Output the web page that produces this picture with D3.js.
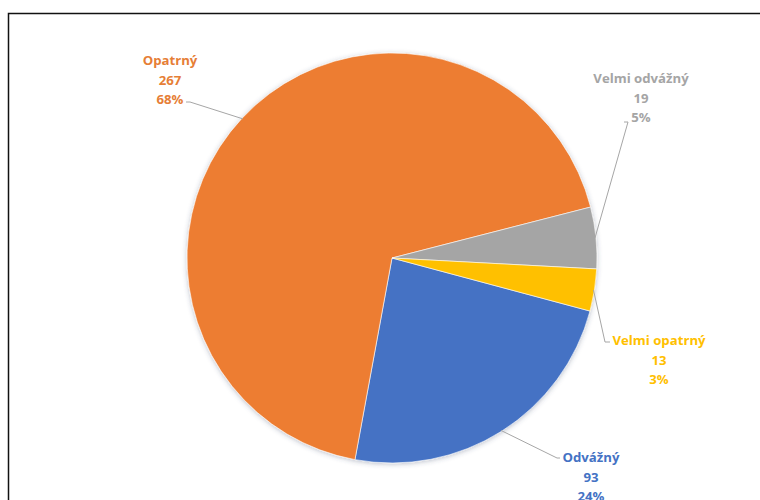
<!DOCTYPE html>
<html>
<head>
<meta charset="utf-8">
<script src="https://cdn.jsdelivr.net/npm/d3@7"></script>
<style>
  html, body { margin: 0; padding: 0; background: #fff; }
  svg { display: block; }
</style>
</head>
<body>
<svg id="chart" width="760" height="500"></svg>
<script>
// Survey answers: counts per category
const categories = ["Odvážný", "Opatrný", "Velmi odvážný", "Velmi opatrný"];
const counts = [93, 267, 19, 13];
const colors = ["#4472C4", "#ED7D31", "#A5A5A5", "#FFC000"];
const labelColors = ["#4472C4", "#E67E36", "#A5A5A5", "#FFC000"];

const W = 760, H = 500;
const cx = 392, cy = 258, R = 205;
const firstSliceAngle = 105; // degrees, clockwise from 12 o'clock

// Label block placement (text centre x, first baseline y) and leader elbow
const labelLayout = {
  "Odvážný":       { x: 591, y: 462, elbow: [557, 458], end: [560, 458] },
  "Opatrný":       { x: 170, y: 65,  elbow: [190, 102], end: [186, 102] },
  "Velmi odvážný": { x: 641, y: 83,  elbow: [628, 122], end: [624, 122] },
  "Velmi opatrný": { x: 659, y: 345, elbow: [605, 342], end: [610, 342] }
};

const svg = d3.select("#chart");

// frame
svg.append("rect")
  .attr("x", 8.5).attr("y", 13.5)
  .attr("width", W + 10).attr("height", H + 10)
  .attr("fill", "none").attr("stroke", "#111").attr("stroke-width", 1.5);

const defs = svg.append("defs");
const f = defs.append("filter").attr("id", "soft")
  .attr("x", "-20%").attr("y", "-20%").attr("width", "140%").attr("height", "140%");
f.append("feDropShadow").attr("dx", 0).attr("dy", 1).attr("stdDeviation", 2.5)
  .attr("flood-color", "#3a4a6a").attr("flood-opacity", 0.35);

const total = d3.sum(counts);
const data = categories.map((c, i) => ({ name: c, value: counts[i], i }));

const pie = d3.pie()
  .value(d => d.value)
  .sort(null)
  .startAngle(firstSliceAngle * Math.PI / 180)
  .endAngle(firstSliceAngle * Math.PI / 180 + 2 * Math.PI);

const arcs = pie(data);
const arc = d3.arc().innerRadius(0).outerRadius(R);

const g = svg.append("g").attr("transform", `translate(${cx},${cy})`);

g.append("g").attr("filter", "url(#soft)")
  .selectAll("path")
  .data(arcs)
  .join("path")
  .attr("d", arc)
  .attr("fill", d => colors[d.data.i])
  .attr("stroke", "#fff")
  .attr("stroke-width", 0.6);

// leader lines from slice edge to label
const lines = svg.append("g");
arcs.forEach(a => {
  const L = labelLayout[a.data.name];
  const mid = (a.startAngle + a.endAngle) / 2;
  const px = cx + Math.sin(mid) * (R - 1);
  const py = cy - Math.cos(mid) * (R - 1);
  lines.append("polyline")
    .attr("points", [[px, py], L.elbow, L.end].map(p => p.join(",")).join(" "))
    .attr("fill", "none")
    .attr("stroke", "#a6a6a6")
    .attr("stroke-width", 1);
});

// labels: category, count, percentage
const fmtPct = v => Math.round(v / total * 100) + "%";
const labels = svg.append("g")
  .attr("font-family", "'Open Sans', 'DejaVu Sans', sans-serif")
  .attr("font-weight", "bold")
  .attr("font-size", 13.2)
  .attr("text-anchor", "middle");

arcs.forEach(a => {
  const L = labelLayout[a.data.name];
  const t = labels.append("text")
    .attr("fill", labelColors[a.data.i]);
  [a.data.name, String(a.data.value), fmtPct(a.data.value)].forEach((s, k) => {
    t.append("tspan").attr("x", L.x).attr("y", L.y + k * 19.5).text(s);
  });
});
</script>
</body>
</html>
